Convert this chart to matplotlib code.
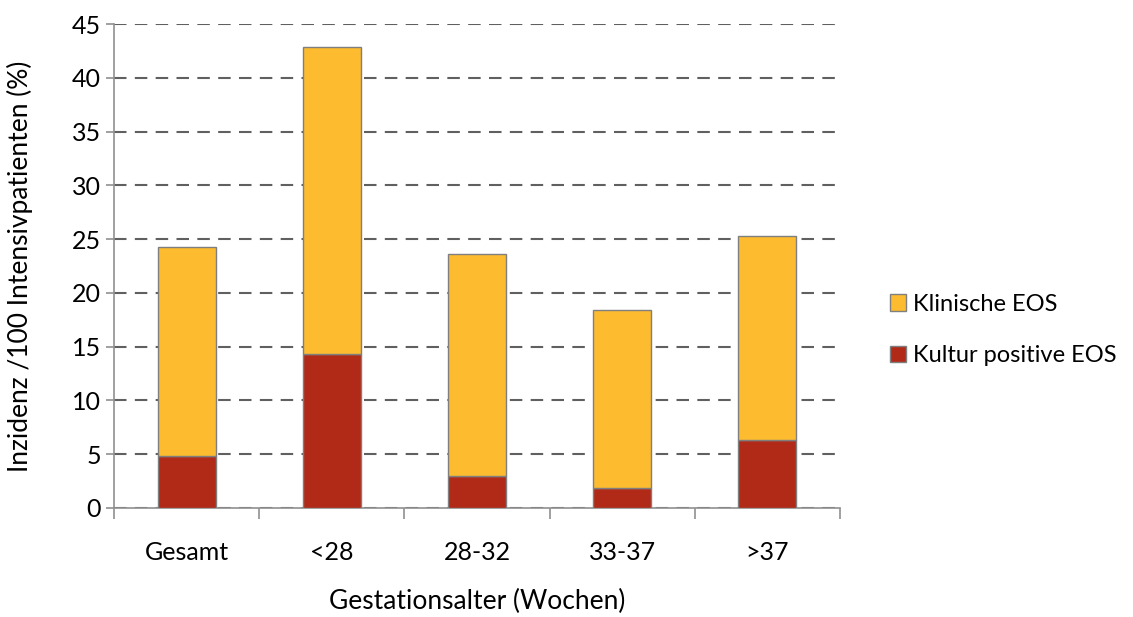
import matplotlib.pyplot as plt
import numpy as np

categories = ['Gesamt', '<28', '28-32', '33-37', '>37']
kultur_positiv = [4.8, 14.3, 3.0, 1.9, 6.3]
gesamt_eos = [24.3, 42.9, 23.6, 18.4, 25.3]
klinisch = [t - k for t, k in zip(gesamt_eos, kultur_positiv)]

plt.rcParams['font.family'] = ['Lato', 'DejaVu Sans']

fig = plt.figure(figsize=(11.33, 6.17), dpi=100)
ax = fig.add_axes([0.1006, 0.1767, 0.6408, 0.7843])

x = np.arange(len(categories))
w = 0.4
red = '#b12a17'
yellow = '#fdbb2f'
edge = '#7f7f7f'

ax.bar(x, kultur_positiv, w, color=red, edgecolor=edge, linewidth=1, zorder=3,
       label='Kultur positive EOS')
ax.bar(x, klinisch, w, bottom=kultur_positiv, color=yellow, edgecolor=edge,
       linewidth=1, zorder=3, label='Klinische EOS')

ax.set_xlim(-0.5, len(categories) - 0.5)
ax.set_ylim(0, 45)
ax.set_yticks(np.arange(0, 46, 5))
ax.yaxis.grid(True, linestyle=(0, (6, 4)), color='#606060', linewidth=1.5, zorder=0)
ax.set_axisbelow(True)

ax.set_xticks(x)
ax.set_xticklabels(categories)
ax.set_xticks(np.arange(-0.5, len(categories)), minor=True)
ax.tick_params(axis='x', which='major', length=0, pad=24, labelsize=18)
ax.tick_params(axis='x', which='minor', length=8, color='#909090', width=1.2)
ax.tick_params(axis='y', length=6, color='#909090', width=1.2, labelsize=18)

for s in ['top', 'right']:
    ax.spines[s].set_visible(False)
for s in ['left', 'bottom']:
    ax.spines[s].set_color('#909090')
    ax.spines[s].set_linewidth(1.2)

ax.set_xlabel('Gestationsalter (Wochen)', fontsize=19, labelpad=18)
ax.set_ylabel('Inzidenz /100 Intensivpatienten (%)', fontsize=19, labelpad=28)

handles, labels = ax.get_legend_handles_labels()
fig.legend(handles[::-1], labels[::-1], loc='center left', bbox_to_anchor=(0.781, 0.465),
           frameon=False, fontsize=17, handlelength=0.7, handleheight=0.7,
           handletextpad=0.3, labelspacing=1.3, borderaxespad=0, borderpad=0.2)

fig.savefig('out.png', dpi=100)
